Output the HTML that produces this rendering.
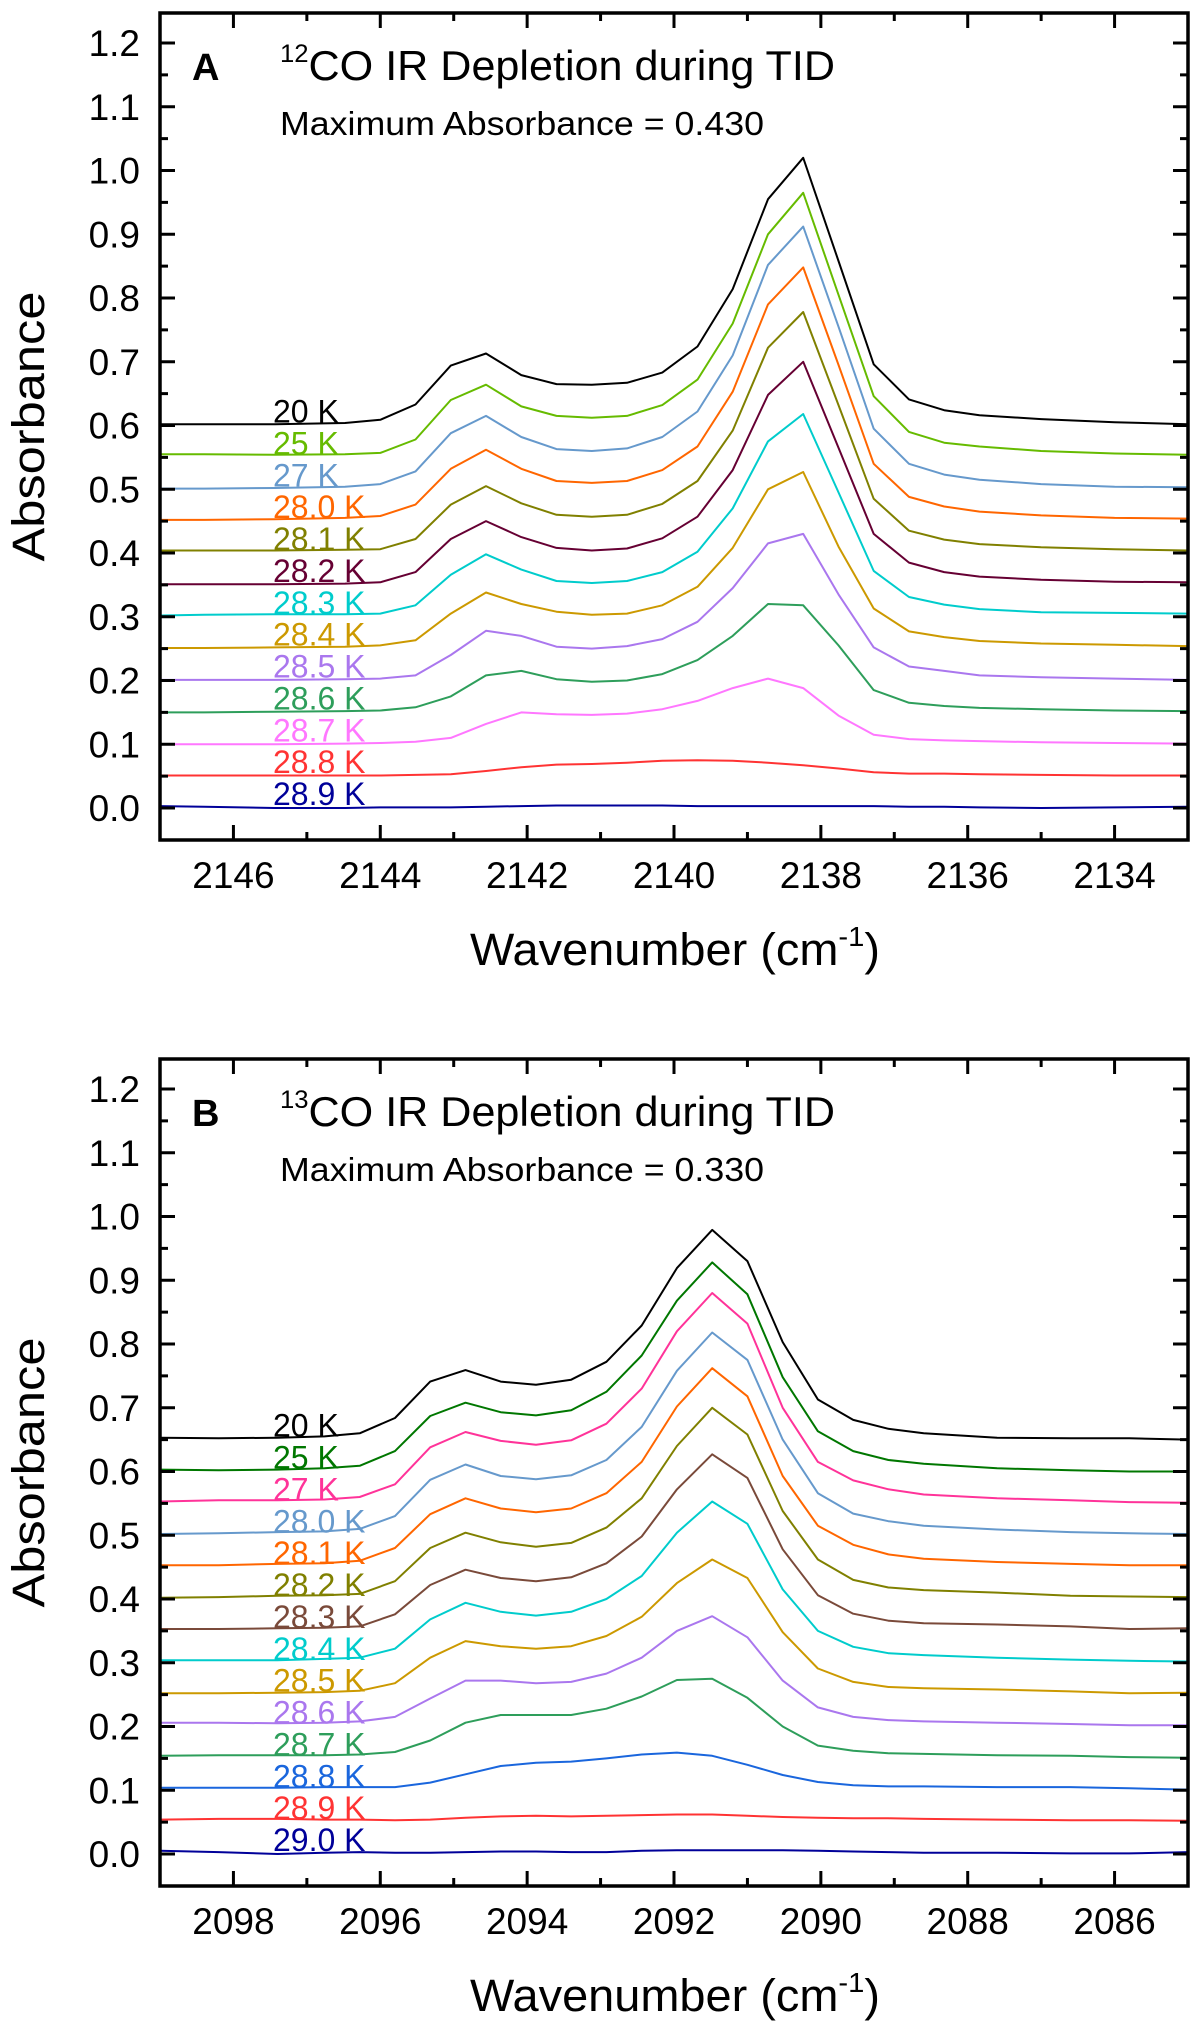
<!DOCTYPE html>
<html><head><meta charset="utf-8">
<style>
html,body{margin:0;padding:0;background:#fff;}
svg{display:block;font-family:"Liberation Sans",Arial,sans-serif;}
</style></head>
<body>
<svg id="fig" width="1200" height="2034" viewBox="0 0 1200 2034" xmlns="http://www.w3.org/2000/svg"></svg>
<script>
// ---------- Panel A data ----------
const xA = [2147,2146.4,2145.44,2144.48,2144.0,2143.52,2143.04,2142.56,2142.08,2141.6,2141.12,2140.64,2140.16,2139.68,2139.2,2138.72,2138.24,2137.76,2137.28,2136.8,2136.32,2135.84,2135.0,2134.0,2133.0];
const labelsA = ["20 K","25 K","27 K","28.0 K","28.1 K","28.2 K","28.3 K","28.4 K","28.5 K","28.6 K","28.7 K","28.8 K","28.9 K"];
const offsetsA = [0.60,0.55,0.50,0.45,0.40,0.35,0.30,0.25,0.20,0.15,0.10,0.05,0.00];
const colorsA = ["#000000","#66bb00","#6699cc","#ff6600","#808000","#660033","#00cccc","#cc9900","#aa77ee","#2e9e5b","#ff77ff","#ff3333","#000099"];
const yA20 = [.002,.002,.002,.004,.009,.033,.094,.113,.079,.065,.064,.067,.083,.124,.214,.355,.420,.258,.096,.041,.024,.016,.010,.005,.002];
const yA25 = [.005,.005,.004,.005,.007,.028,.090,.114,.080,.065,.062,.065,.082,.122,.210,.350,.415,.255,.096,.040,.023,.017,.010,.006,.004];
const yA27 = [.001,.001,.002,.004,.008,.028,.088,.115,.082,.063,.060,.064,.082,.122,.210,.352,.412,.255,.095,.040,.023,.015,.008,.004,.003];
const yA280 = [.002,.002,.003,.005,.008,.026,.082,.112,.082,.063,.060,.063,.080,.117,.203,.340,.398,.245,.090,.038,.023,.015,.009,.005,.004];
const yA281 = [.004,.004,.004,.005,.006,.022,.076,.105,.078,.060,.057,.060,.077,.113,.192,.322,.378,.232,.085,.035,.021,.014,.009,.006,.004];
const yA282 = [.001,.001,.001,.002,.004,.020,.072,.100,.075,.058,.054,.057,.073,.107,.180,.298,.350,.215,.080,.035,.020,.013,.008,.005,.004];
const yA283 = [.002,.003,.004,.004,.005,.018,.066,.098,.074,.056,.053,.056,.070,.102,.170,.275,.318,.195,.072,.031,.019,.012,.007,.006,.005];
const yA284 = [.001,.001,.002,.003,.005,.013,.055,.088,.070,.058,.053,.055,.068,.097,.158,.250,.277,.160,.063,.027,.018,.012,.008,.006,.004];
const yA285 = [.001,.001,.001,.002,.003,.008,.040,.078,.070,.053,.050,.054,.065,.092,.145,.215,.230,.135,.052,.022,.015,.008,.005,.003,.001];
const yA286 = [.000,.000,.001,.002,.003,.008,.025,.058,.065,.052,.048,.050,.060,.082,.120,.170,.168,.105,.035,.015,.010,.007,.005,.003,.002];
const yA287 = [.000,.000,.000,.001,.002,.004,.010,.032,.050,.047,.046,.048,.055,.068,.088,.103,.088,.045,.015,.008,.006,.005,.003,.002,.001];
const yA288 = [.001,.001,.001,.001,.001,.002,.003,.008,.014,.018,.019,.021,.024,.025,.024,.021,.017,.012,.006,.004,.004,.003,.002,.001,.001];
const yA289 = [.003,.002,.000,.000,.001,.001,.001,.002,.003,.004,.004,.004,.004,.003,.003,.003,.003,.003,.003,.002,.002,.001,.000,.001,.002];
const seriesA = [yA20,yA25,yA27,yA280,yA281,yA282,yA283,yA284,yA285,yA286,yA287,yA288,yA289];
const xTicksA = [2146,2144,2142,2140,2138,2136,2134];

// ---------- Panel B data ----------
const xB = [2099,2098.2,2097.4,2096.76,2096.28,2095.8,2095.32,2094.84,2094.36,2093.88,2093.4,2092.92,2092.44,2091.96,2091.48,2091.0,2090.52,2090.04,2089.56,2089.08,2088.6,2087.6,2086.6,2085.8,2085.0];
const labelsB = ["20 K","25 K","27 K","28.0 K","28.1 K","28.2 K","28.3 K","28.4 K","28.5 K","28.6 K","28.7 K","28.8 K","28.9 K","29.0 K"];
const offsetsB = [0.65,0.60,0.55,0.50,0.45,0.40,0.35,0.30,0.25,0.20,0.15,0.10,0.05,0.00];
const colorsB = ["#000000","#007700","#ff3399","#6699cc","#ff6600","#808000","#7a4a3a","#00cccc","#cc9900","#aa77ee","#2e9e5b","#1a66dd","#ff3333","#000099"];
const yB20 = [.003,.002,.003,.005,.010,.034,.091,.109,.091,.086,.094,.122,.179,.269,.329,.280,.153,.063,.031,.017,.010,.003,.002,.002,.000];
const yB25 = [.003,.002,.003,.005,.009,.032,.087,.108,.093,.088,.096,.125,.182,.268,.328,.278,.148,.063,.032,.018,.012,.005,.002,.000,.000];
const yB27 = [.003,.005,.005,.006,.010,.030,.088,.112,.098,.092,.099,.125,.180,.270,.330,.282,.150,.065,.036,.022,.014,.008,.005,.002,.001];
const yB280 = [.002,.003,.005,.006,.010,.030,.087,.111,.093,.088,.094,.118,.170,.258,.318,.275,.150,.066,.034,.022,.015,.009,.005,.003,.002];
const yB281 = [.003,.003,.005,.006,.010,.030,.083,.108,.092,.086,.092,.116,.165,.252,.312,.268,.143,.065,.035,.020,.013,.008,.005,.003,.003];
const yB282 = [.002,.003,.005,.006,.008,.028,.080,.104,.089,.082,.088,.112,.158,.240,.300,.258,.138,.062,.030,.018,.014,.010,.005,.004,.003];
const yB283 = [.003,.003,.004,.005,.007,.026,.072,.096,.083,.078,.084,.106,.148,.222,.277,.240,.128,.056,.027,.016,.012,.010,.007,.003,.004];
const yB284 = [.004,.004,.004,.006,.008,.022,.068,.094,.080,.074,.080,.100,.136,.204,.253,.218,.115,.050,.025,.015,.012,.008,.005,.003,.002];
const yB285 = [.002,.002,.003,.004,.006,.018,.058,.084,.076,.072,.076,.092,.122,.175,.212,.183,.098,.041,.020,.012,.010,.008,.005,.002,.003];
const yB286 = [.006,.006,.005,.006,.008,.015,.044,.072,.072,.068,.070,.083,.108,.150,.173,.140,.072,.030,.015,.010,.008,.006,.004,.002,.002];
const yB287 = [.004,.005,.005,.005,.006,.010,.028,.056,.068,.068,.068,.078,.097,.123,.125,.095,.050,.020,.012,.008,.007,.005,.004,.002,.001];
const yB288 = [.004,.004,.004,.005,.005,.005,.012,.025,.038,.043,.045,.050,.056,.059,.054,.040,.024,.013,.008,.006,.006,.005,.005,.003,.001];
const yB289 = [.004,.005,.005,.004,.004,.003,.004,.007,.009,.010,.009,.010,.011,.012,.012,.010,.008,.007,.006,.006,.005,.004,.003,.003,.002];
const yB290 = [.005,.003,.000,.002,.003,.002,.002,.003,.004,.004,.003,.003,.005,.006,.006,.006,.006,.005,.004,.003,.002,.002,.001,.001,.003];
const seriesB = [yB20,yB25,yB27,yB280,yB281,yB282,yB283,yB284,yB285,yB286,yB287,yB288,yB289,yB290];
const xTicksB = [2098,2096,2094,2092,2090,2088,2086];

const yTicks = ["0.0","0.1","0.2","0.3","0.4","0.5","0.6","0.7","0.8","0.9","1.0","1.1","1.2"];

const NS = "http://www.w3.org/2000/svg";
const svg = document.getElementById('fig');
function mk(tag, attrs, parent, text){
  const e = document.createElementNS(NS, tag);
  for (const k in attrs) e.setAttribute(k, attrs[k]);
  if (text !== undefined) e.textContent = text;
  (parent||svg).appendChild(e);
  return e;
}

function panel(top, xs, xmax, seriesList, offsets, colors, labels, xTicks, letter, iso, maxAbs, key){
  const L = 160, R = 1188, B = top + 827;
  const X = v => L + (xmax - v) / 14 * (R - L);
  const Y = v => (top + 795) - v / 0.1 * 63.75;
  const g = mk('g', {});
  
  

  seriesList.forEach((arr, i) => {
    const pts = arr.map((d, j) => X(xs[j]).toFixed(1) + ',' + Y(d + offsets[i]).toFixed(1)).join(' ');
    const pl = mk('polyline', {points: pts, fill: 'none', stroke: colors[i], 'stroke-width': 2, 'stroke-linejoin': 'round'}, g);
    
    
    const t = mk('text', {x: 273, y: (Y(offsets[i]) - 3).toFixed(1), fill: colors[i], 'font-size': 32}, g, labels[i]);
    
    
  });

  const fr = mk('rect', {x: L, y: top, width: R - L, height: B - top, fill: 'none', stroke: '#000', 'stroke-width': 3.5}, g);
  
  

  yTicks.forEach((lab, i) => {
    const v = parseFloat(lab);
    const y = Y(v);
    mk('line', {x1: L, x2: L + 15, y1: y, y2: y, stroke: '#000', 'stroke-width': 3}, g);
    mk('line', {x1: R, x2: R - 15, y1: y, y2: y, stroke: '#000', 'stroke-width': 3}, g);
    const ym = Y(v + 0.05);
    if (ym > top + 3) {
      mk('line', {x1: L, x2: L + 8, y1: ym, y2: ym, stroke: '#000', 'stroke-width': 3}, g);
      mk('line', {x1: R, x2: R - 8, y1: ym, y2: ym, stroke: '#000', 'stroke-width': 3}, g);
    }
    const t = mk('text', {x: 140, y: y + 13, 'text-anchor': 'end', 'font-size': 37}, g, lab);
    
    
  });
  xTicks.forEach(v => {
    const x = X(v);
    mk('line', {x1: x, x2: x, y1: B, y2: B - 15, stroke: '#000', 'stroke-width': 3}, g);
    mk('line', {x1: x, x2: x, y1: top, y2: top + 15, stroke: '#000', 'stroke-width': 3}, g);
    const xm = X(v - 1);
    if (xm < R - 3) {
      mk('line', {x1: xm, x2: xm, y1: B, y2: B - 8, stroke: '#000', 'stroke-width': 3}, g);
      mk('line', {x1: xm, x2: xm, y1: top, y2: top + 8, stroke: '#000', 'stroke-width': 3}, g);
    }
    const t = mk('text', {x: x, y: B + 48, 'text-anchor': 'middle', 'font-size': 37}, g, String(v));
    
    
  });

  const xt = mk('text', {x: 470, y: B + 125, 'font-size': 45, textLength: 410, lengthAdjust: 'spacingAndGlyphs'}, g);
  
  
  mk('tspan', {}, xt, 'Wavenumber (cm');
  mk('tspan', {dy: -19, 'font-size': 28}, xt, '-1');
  mk('tspan', {dy: 19}, xt, ')');
  const yc = (top + B) / 2;
  const yt = mk('text', {x: -135, y: 0, transform: 'translate(44,' + yc + ') rotate(-90)', 'font-size': 45, textLength: 270, lengthAdjust: 'spacingAndGlyphs'}, g, 'Absorbance');
  
  

  const pl = mk('text', {x: 192, y: top + 67, 'font-size': 38, 'font-weight': 'bold'}, g, letter);
  
  
  const tt = mk('text', {x: 280, y: top + 67, 'font-size': 42, textLength: 555, lengthAdjust: 'spacingAndGlyphs'}, g);
  
  
  mk('tspan', {dy: -18, 'font-size': 25}, tt, iso);
  mk('tspan', {dy: 18}, tt, 'CO IR Depletion during TID');
  const ma = mk('text', {x: 280, y: top + 122, 'font-size': 33, textLength: 484, lengthAdjust: 'spacingAndGlyphs'}, g, 'Maximum Absorbance = ' + maxAbs);
  
  
}

panel(13, xA, 2147, seriesA, offsetsA, colorsA, labelsA, xTicksA, 'A', '12', '0.430', 'a');
panel(1059, xB, 2099, seriesB, offsetsB, colorsB, labelsB, xTicksB, 'B', '13', '0.330', 'b');
</script>
</body></html>
